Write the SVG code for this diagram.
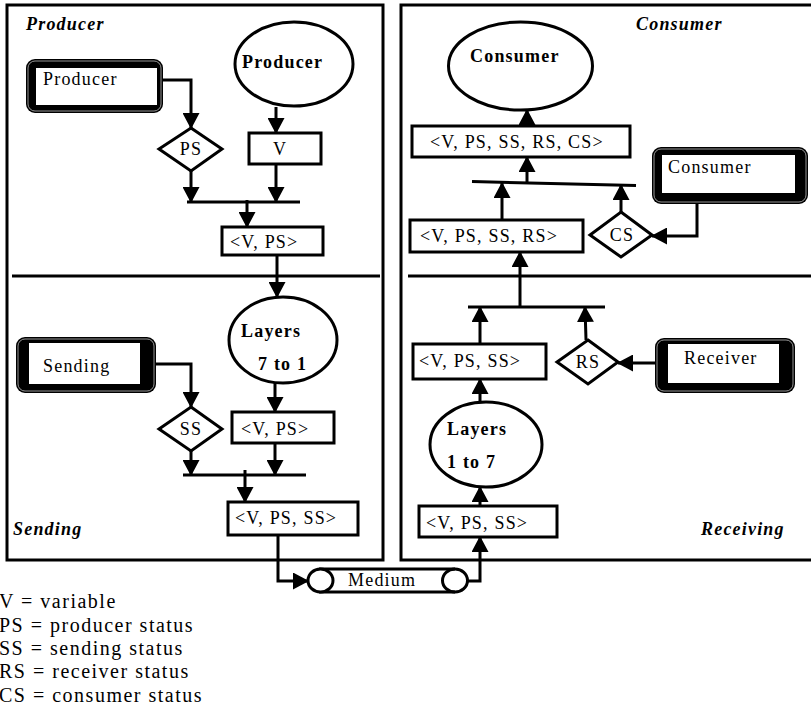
<svg xmlns="http://www.w3.org/2000/svg" width="811" height="708" viewBox="0 0 811 708" font-family="'Liberation Serif', 'DejaVu Serif', serif">
<defs>
<style>
text{font-family:'Liberation Serif','DejaVu Serif',serif;font-size:18px;letter-spacing:1.2px;fill:#000}
.b{font-weight:bold}
.sec{font-weight:bold;font-style:italic}
.mid{text-anchor:middle}
.leg{font-size:20px;letter-spacing:1.5px}
.panel{fill:none;stroke:#000;stroke-width:3}
.box{fill:#fff;stroke:#000;stroke-width:3}
.ell{fill:#fff;stroke:#000;stroke-width:3}
.dia{fill:#fff;stroke:#000;stroke-width:3}
.tb{fill:#000}
.tbg{fill:none;stroke:#bbb;stroke-width:0.8}
.tbi{fill:#fff}
.c{fill:none;stroke:#000;stroke-width:3}
.a{marker-end:url(#ah)}
</style>
<marker id="ah" viewBox="0 0 16 17" refX="15" refY="8.5" markerWidth="16" markerHeight="17" markerUnits="userSpaceOnUse" orient="auto">
<path d="M0,0 L16,8.5 L0,17 z" fill="#000"/>
</marker>
</defs>
<rect width="811" height="708" fill="#fff"/>

<g id="panels">
<rect class="panel" x="7" y="5" width="376" height="555"/>
<line class="panel" x1="12" y1="276" x2="380" y2="276"/>
<rect class="panel" x="401" y="5" width="420" height="555"/>
<line class="panel" x1="408" y1="276" x2="811" y2="276"/>
<text class="sec" x="26" y="30">Producer</text>
<text class="sec" x="13" y="535">Sending</text>
<text class="sec" x="636" y="30">Consumer</text>
<text class="sec" x="701" y="535">Receiving</text>
</g>

<g id="connectors">
<polyline class="c a" points="163,80 191,80 191,128"/>
<line class="c a" x1="276" y1="107" x2="276" y2="133"/>
<line class="c a" x1="191" y1="171" x2="191" y2="202"/>
<line class="c a" x1="276" y1="164" x2="276" y2="202"/>
<line class="c" x1="187" y1="202" x2="300" y2="202"/>
<line class="c a" x1="247" y1="200" x2="247" y2="227"/>
<line class="c a" x1="277" y1="255" x2="277" y2="297"/>
<polyline class="c a" points="156,364 191,364 191,407"/>
<line class="c a" x1="275" y1="383" x2="275" y2="412"/>
<line class="c a" x1="191" y1="451" x2="191" y2="475"/>
<line class="c a" x1="275" y1="443" x2="275" y2="475"/>
<line class="c" x1="183" y1="475" x2="306" y2="475"/>
<line class="c a" x1="245" y1="470" x2="245" y2="502"/>
<polyline class="c a" points="278,535 278,581 308,581"/>
<polyline class="c a" points="452,581 480,581 480,537"/>
<line class="c a" x1="480" y1="506" x2="480" y2="487"/>
<line class="c a" x1="480" y1="402" x2="480" y2="379"/>
<line class="c a" x1="480" y1="344" x2="480" y2="307"/>
<line class="c a" x1="586" y1="340" x2="585" y2="307"/>
<line class="c a" x1="655" y1="363" x2="618" y2="363"/>
<line class="c" x1="468" y1="307" x2="605" y2="307"/>
<line class="c a" x1="520" y1="307" x2="520" y2="252"/>
<line class="c a" x1="502" y1="220" x2="502" y2="183"/>
<line class="c a" x1="621" y1="212" x2="621" y2="185"/>
<polyline class="c a" points="697,204 697,236 652,236"/>
<line class="c" x1="472" y1="181.5" x2="636" y2="185.5"/>
<line class="c a" x1="527" y1="183" x2="527" y2="157"/>
<line class="c a" x1="527" y1="126" x2="527" y2="110"/>
</g>

<g id="producer-app">
<rect class="tb" x="26" y="59" width="137" height="54" rx="9"/>
<rect class="tbg" x="28" y="61" width="133" height="50" rx="7"/>
<rect class="tbi" x="36" y="68" width="121" height="37"/>
<text x="43" y="85">Producer</text>
</g>
<g id="producer-proc">
<ellipse class="ell" cx="294" cy="64" rx="59" ry="42"/>
<text class="b" x="242" y="68">Producer</text>
</g>
<g id="ps">
<polygon class="dia" points="191,128 222,149 191,171 159,149"/>
<text class="mid" x="191" y="155">PS</text>
</g>
<g id="v">
<rect class="box" x="249" y="133" width="72" height="31"/>
<text x="273" y="155">V</text>
</g>
<g id="v-ps-1">
<rect class="box" x="222" y="227" width="101" height="28"/>
<text x="230" y="248">&lt;V, PS&gt;</text>
</g>
<g id="layers-7-1">
<ellipse class="ell" cx="283" cy="340" rx="54" ry="43"/>
<text class="b" x="241" y="337">Layers</text>
<text class="b" x="258" y="370">7 to 1</text>
</g>
<g id="sending-app">
<rect class="tb" x="16" y="337" width="140" height="56" rx="9"/>
<rect class="tbg" x="18" y="339" width="136" height="52" rx="7"/>
<rect class="tbi" x="29" y="343" width="111" height="41"/>
<text x="43" y="372">Sending</text>
</g>
<g id="ss">
<polygon class="dia" points="191,407 222,429 191,451 159,429"/>
<text class="mid" x="191" y="435">SS</text>
</g>
<g id="v-ps-2">
<rect class="box" x="232" y="412" width="102" height="31"/>
<text x="241" y="435">&lt;V, PS&gt;</text>
</g>
<g id="v-ps-ss-send">
<rect class="box" x="228" y="502" width="130" height="33"/>
<text x="235" y="524">&lt;V, PS, SS&gt;</text>
</g>
<g id="medium">
<path class="box" d="M320.5,569 L455,569 A12.5,11.5 0 0 1 455,592 L320.5,592 Z"/>
<ellipse class="ell" cx="320.5" cy="580.5" rx="12.5" ry="11.5"/>
<path class="c" d="M455,569 A12.5,11.5 0 0 0 455,592"/>
<text x="348" y="586">Medium</text>
</g>
<g id="v-ps-ss-recv">
<rect class="box" x="419" y="506" width="138" height="31"/>
<text x="426" y="529">&lt;V, PS, SS&gt;</text>
</g>
<g id="layers-1-7">
<ellipse class="ell" cx="486" cy="444.5" rx="56" ry="42.5"/>
<text class="b" x="447" y="435">Layers</text>
<text class="b" x="447" y="468">1 to 7</text>
</g>
<g id="v-ps-ss-up">
<rect class="box" x="413" y="344" width="133" height="35"/>
<text x="419" y="367">&lt;V, PS, SS&gt;</text>
</g>
<g id="rs">
<polygon class="dia" points="588,340 618,362 588,384 557,362"/>
<text class="mid" x="588" y="368">RS</text>
</g>
<g id="receiver-app">
<rect class="tb" x="655" y="338" width="140" height="55" rx="9"/>
<rect class="tbg" x="657" y="340" width="136" height="51" rx="7"/>
<rect class="tbi" x="668" y="344" width="111" height="39"/>
<text x="684" y="364">Receiver</text>
</g>
<g id="v-ps-ss-rs">
<rect class="box" x="410" y="220" width="173" height="32"/>
<text x="420" y="242">&lt;V, PS, SS, RS&gt;</text>
</g>
<g id="cs">
<polygon class="dia" points="621,212 652,235 621,257 590,235"/>
<text class="mid" x="622" y="241">CS</text>
</g>
<g id="consumer-app">
<rect class="tb" x="652" y="147" width="156" height="57" rx="9"/>
<rect class="tbg" x="654" y="149" width="152" height="53" rx="7"/>
<rect class="tbi" x="662" y="155" width="133" height="38"/>
<text x="668" y="173">Consumer</text>
</g>
<g id="v-ps-ss-rs-cs">
<rect class="box" x="412" y="126" width="218" height="31"/>
<text x="430" y="148">&lt;V, PS, SS, RS, CS&gt;</text>
</g>
<g id="consumer-proc">
<ellipse class="ell" cx="520.5" cy="66" rx="72" ry="44"/>
<text class="b" x="470" y="62">Consumer</text>
</g>

<g id="legend">
<text class="leg" x="-1" y="608">V = variable</text>
<text class="leg" x="-1" y="632">PS = producer status</text>
<text class="leg" x="-1" y="655">SS = sending status</text>
<text class="leg" x="-1" y="678">RS = receiver status</text>
<text class="leg" x="-1" y="702">CS = consumer status</text>
</g>
</svg>
